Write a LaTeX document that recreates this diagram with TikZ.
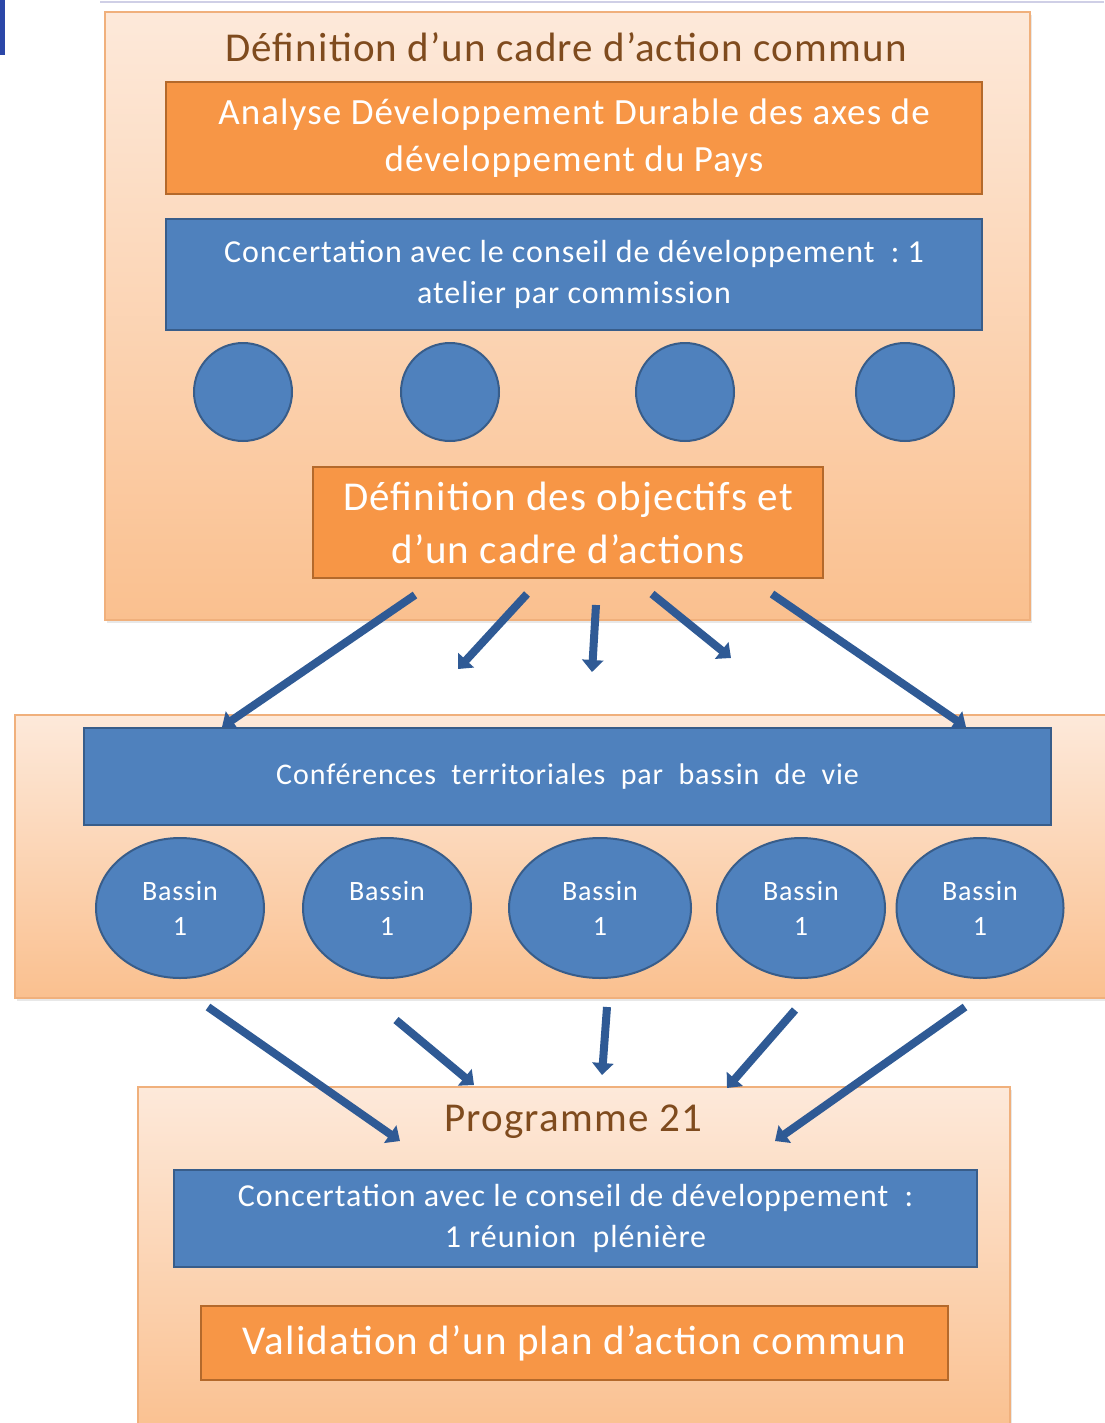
\documentclass[tikz,border=0pt]{standalone}
\usepackage{fontspec}
\setmainfont{Carlito}[LetterSpace=3]
\usetikzlibrary{arrows.meta,shadows,shapes.geometric}

\definecolor{peach}{HTML}{FDE9DA}
\definecolor{apricot}{HTML}{FAC08F}
\definecolor{frameor}{HTML}{F0B07C}
\definecolor{orfill}{HTML}{F79646}
\definecolor{ordraw}{HTML}{B4692B}
\definecolor{blfill}{HTML}{4F81BD}
\definecolor{bldraw}{HTML}{385D8A}
\definecolor{titlebrown}{HTML}{7F4B1E}
\definecolor{arrowblue}{HTML}{2F5A95}
\definecolor{edgegrey}{HTML}{CFCFE6}
\definecolor{markblue}{HTML}{2B47A8}

\begin{document}
\begin{tikzpicture}[x=1pt,y=-1pt]
      \tikzstyle{panel}=[rectangle,draw=frameor,line width=1.5pt,top color=peach,bottom color=apricot,
        drop shadow={opacity=0.18,shadow xshift=2pt,shadow yshift=-3pt}]
      \tikzstyle{obox}=[rectangle,draw=ordraw,line width=2.5pt,fill=orfill,text=white,align=center,inner sep=0pt]
      \tikzstyle{bbox}=[rectangle,draw=bldraw,line width=2.5pt,fill=blfill,text=white,align=center,inner sep=0pt]
      \tikzstyle{atelier}=[circle,draw=bldraw,line width=2pt,fill=blfill,minimum size=98pt]
      \tikzstyle{bassin}=[ellipse,draw=bldraw,line width=2pt,fill=blfill,text=white,align=center,
        minimum height=140pt,font=\fontsize{28}{35}\selectfont]
      \tikzstyle{heading}=[text=titlebrown,inner sep=0pt]
      \tikzstyle{flow}=[arrowblue,line width=8pt,-{Triangle[length=12pt,width=21pt]}]
      \useasboundingbox (0,0) rectangle (1104,1423);
      \fill[white] (0,0) rectangle (1104,1423);
      \fill[markblue] (0,0) rectangle (5,55);
      \draw[edgegrey,line width=1.5pt] (100,2) -- (1104,2);
      % cadre d'action commun
      \node[panel,minimum width=925pt,minimum height=608pt] (cadre) at (567.5,316) {};
      \node[heading,font=\fontsize{41}{48}\selectfont] (titre) at (566,47) {Définition d’un cadre d’action commun};
      \node[obox,minimum width=816pt,minimum height=112pt,font=\fontsize{37}{47}\selectfont] (analyse) at (574,138)
        {Analyse Développement Durable des axes de\\développement du Pays};
      \node[bbox,minimum width=816pt,minimum height=111pt,font=\fontsize{32}{41}\selectfont] (conseil) at (574,274.5)
        {Concertation avec le conseil de développement \ :\ 1\\atelier par commission};
      \foreach \i/\x in {1/243,2/450,3/685,4/905} {\node[atelier] at (\x,392) (c\i) {};}
      \node[obox,minimum width=510pt,minimum height=111pt,font=\fontsize{41}{53}\selectfont] (objectifs) at (568,522.5)
        {Définition des objectifs et\\d’un cadre d’actions};
      % conferences territoriales
      \node[panel,minimum width=1095pt,minimum height=283pt] (territoire) at (562.5,856.5) {};
      \node[bbox,minimum width=967pt,minimum height=97pt,font=\fontsize{30}{34}\selectfont] (conferences) at (567.5,776.5)
        {Conférences \ territoriales \ par \ bassin \ de \ vie};
      \foreach \i/\x/\w in {1/180/168,2/387/168,3/600/182,4/801/168,5/980/167}
        {\node[bassin,minimum width=\w pt] at (\x,908) (b\i) {Bassin\\1};}
      % programme 21
      \node[panel,minimum width=872pt,minimum height=350pt] (programme) at (574,1262) {};
      \node[heading,font=\fontsize{41}{48}\selectfont] (titre21) at (573,1122) {Programme 21};
      \node[bbox,minimum width=803pt,minimum height=97pt,font=\fontsize{32}{41}\selectfont] (pleniere) at (575.5,1218.5)
        {Concertation avec le conseil de développement \ :\\1 réunion \ plénière};
      \node[obox,minimum width=747pt,minimum height=74pt,font=\fontsize{41}{48}\selectfont] (validation) at (574.5,1343)
        {Validation d’un plan d’action commun};
      % fleches
      \foreach \i/\a/\b/\c/\d in {1/415/595/222/727,2/527/594/458/669,3/596/605/592/672,4/652/594/731/658,5/772/594/966/727}
        {\coordinate (ha\i) at (\a,\b); \coordinate (hb\i) at (\c,\d); \draw[flow] (ha\i) -- (hb\i);}
      \foreach \i/\a/\b/\c/\d in {1/208/1007/400/1141,2/396/1020/474/1085,3/607/1007/602/1075,4/795/1010/727/1088,5/965/1007/775/1141}
        {\coordinate (ba\i) at (\a,\b); \coordinate (bb\i) at (\c,\d); \draw[flow] (ba\i) -- (bb\i);}
\end{tikzpicture}
\end{document}
